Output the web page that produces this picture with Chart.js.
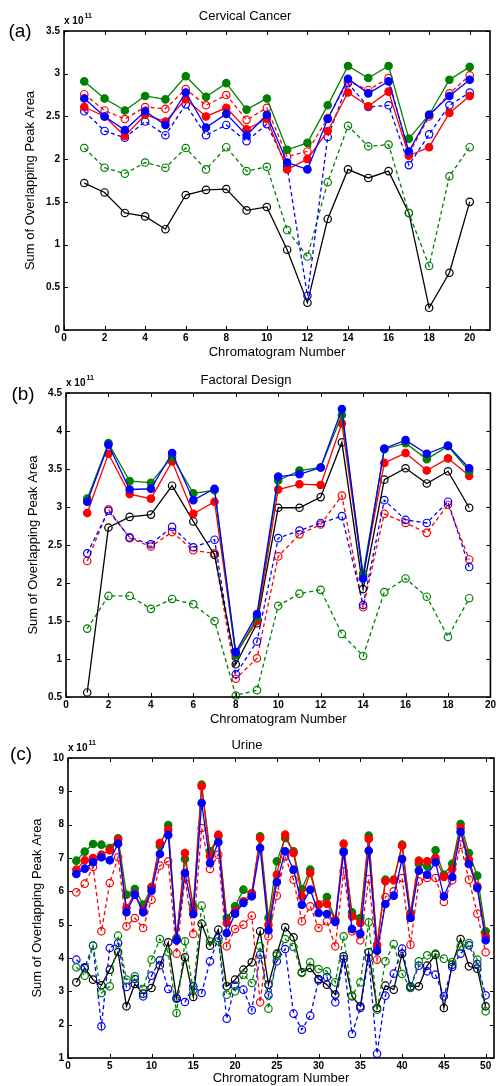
<!DOCTYPE html>
<html>
<head>
<meta charset="utf-8">
<title>Sum of Overlapping Peak Area</title>
<script src="https://cdn.jsdelivr.net/npm/chart.js@4.4.1/dist/chart.umd.min.js"></script>
<style>
  html, body { margin: 0; padding: 0; background: #fff; }
  #page { position: relative; width: 498px; height: 1086px; overflow: hidden; }
  #page canvas { position: absolute; left: 0; }
</style>
</head>
<body>
<div id="page">
  <canvas id="chartA" width="498" height="362" style="top:0"></canvas>
  <canvas id="chartB" width="498" height="366" style="top:362px"></canvas>
  <canvas id="chartC" width="498" height="358" style="top:728px"></canvas>
</div>
<script>
/* ============================================================
   DATA — values in units of 10^11
   ============================================================ */

// (a) Cervical Cancer, chromatograms 1..20
const cervGreenFilled = [2.91, 2.71, 2.57, 2.74, 2.70, 2.97, 2.73, 2.89, 2.58, 2.71, 2.11, 2.19, 2.63, 3.09, 2.95, 3.09, 2.24, 2.52, 2.93, 3.08];
const cervRedOpen     = [2.76, 2.57, 2.47, 2.61, 2.59, 2.82, 2.63, 2.75, 2.46, 2.60, 2.03, 2.09, 2.48, 2.91, 2.81, 2.95, 2.06, 2.50, 2.77, 2.98];
const cervBlueFilled  = [2.71, 2.50, 2.34, 2.56, 2.40, 2.78, 2.37, 2.53, 2.28, 2.52, 1.96, 1.88, 2.47, 2.94, 2.77, 2.91, 2.09, 2.52, 2.74, 2.93];
const cervRedFilled   = [2.61, 2.50, 2.27, 2.52, 2.44, 2.70, 2.50, 2.60, 2.35, 2.47, 1.88, 2.00, 2.33, 2.78, 2.62, 2.79, 2.04, 2.14, 2.54, 2.74];
const cervBlueOpen    = [2.56, 2.33, 2.25, 2.44, 2.28, 2.64, 2.28, 2.40, 2.21, 2.41, 1.91, 0.40, 2.26, 2.89, 2.61, 2.63, 1.93, 2.29, 2.63, 2.78];
const cervGreenOpen   = [2.13, 1.90, 1.83, 1.96, 1.90, 2.13, 1.88, 2.14, 1.86, 1.91, 1.17, 0.86, 1.73, 2.39, 2.15, 2.17, 1.37, 0.75, 1.80, 2.14];
const cervBlack       = [1.72, 1.61, 1.37, 1.33, 1.18, 1.58, 1.64, 1.65, 1.40, 1.44, 0.94, 0.32, 1.30, 1.88, 1.78, 1.86, 1.37, 0.26, 0.67, 1.50];

// (b) Factoral Design, chromatograms 1..19
const factGreenFilled = [3.11, 3.84, 3.34, 3.32, 3.66, 3.18, 3.22, 1.05, 1.55, 3.35, 3.48, 3.52, 4.21, 2.12, 3.76, 3.84, 3.63, 3.80, 3.47];
const factBlueFilled  = [3.07, 3.82, 3.23, 3.24, 3.71, 3.09, 3.24, 1.09, 1.59, 3.40, 3.43, 3.52, 4.29, 2.06, 3.77, 3.88, 3.70, 3.81, 3.51];
const factRedFilled   = [2.92, 3.70, 3.17, 3.11, 3.60, 2.91, 3.07, 1.07, 1.50, 3.23, 3.30, 3.29, 4.10, 2.09, 3.58, 3.71, 3.48, 3.64, 3.41];
const factBlack       = [0.56, 2.73, 2.87, 2.90, 3.28, 2.81, 2.37, 0.93, 1.47, 2.99, 2.99, 3.13, 3.85, 1.92, 3.36, 3.51, 3.31, 3.47, 2.99];
const factBlueOpen    = [2.39, 2.95, 2.60, 2.51, 2.74, 2.47, 2.57, 0.80, 1.23, 2.59, 2.69, 2.79, 2.88, 1.71, 3.09, 2.83, 2.79, 3.07, 2.21];
const factRedOpen     = [2.29, 2.97, 2.59, 2.48, 2.67, 2.43, 2.39, 0.74, 1.01, 2.35, 2.64, 2.77, 3.15, 1.68, 2.91, 2.79, 2.66, 3.03, 2.31];
const factGreenOpen   = [1.40, 1.83, 1.83, 1.66, 1.79, 1.72, 1.50, 0.52, 0.59, 1.70, 1.86, 1.91, 1.33, 1.04, 1.88, 2.06, 1.82, 1.29, 1.80];

// (c) Urine, chromatograms 1..50
const urineGreenFilled = [6.92, 7.19, 7.42, 7.40, 7.30, 7.59, 5.90, 6.07, 5.60, 6.13, 7.37, 7.99, 4.60, 6.97, 5.55, 9.20, 7.20, 7.65, 5.20, 5.55,
                          6.05, 5.90, 7.65, 5.20, 6.90, 7.60, 7.20, 6.07, 6.65, 5.60, 5.83, 5.15, 7.22, 5.37, 5.20, 7.67, 4.35, 6.35, 6.35, 7.40,
                          5.35, 6.83, 6.75, 7.23, 6.50, 6.83, 8.02, 7.15, 6.47, 4.80];
const urineRedFilled   = [6.65, 6.93, 7.00, 7.10, 7.23, 7.55, 5.50, 5.93, 5.43, 6.13, 7.45, 7.85, 4.55, 7.15, 5.45, 9.15, 7.05, 7.70, 5.05, 5.40,
                          5.70, 5.95, 7.60, 5.00, 6.50, 7.70, 7.15, 5.85, 6.55, 5.60, 5.63, 5.13, 7.43, 5.25, 5.05, 7.57, 4.40, 6.30, 6.33, 7.37,
                          5.30, 6.92, 6.90, 7.00, 6.43, 6.67, 7.90, 6.95, 6.15, 4.65];
const urineBlueFilled  = [6.52, 6.68, 6.87, 7.02, 6.93, 7.43, 5.37, 5.90, 5.37, 6.02, 7.12, 7.69, 4.53, 6.55, 5.32, 8.65, 6.85, 7.47, 4.75, 5.33,
                          5.65, 5.85, 7.30, 4.83, 6.27, 7.20, 6.65, 5.60, 6.05, 5.35, 5.32, 5.08, 7.17, 4.87, 4.73, 7.22, 4.22, 5.62, 5.87, 6.97,
                          5.20, 6.62, 6.50, 6.87, 5.85, 6.43, 7.78, 6.82, 6.10, 4.53];
const urineRedOpen     = [5.97, 6.23, 6.73, 4.80, 6.25, 7.02, 4.95, 5.20, 4.90, 5.75, 6.77, 6.90, 4.13, 6.40, 4.72, 7.90, 6.67, 7.10, 4.35, 4.87,
                          5.00, 5.27, 2.67, 4.65, 5.87, 7.05, 6.35, 5.10, 5.55, 4.90, 5.10, 4.35, 6.60, 4.80, 4.53, 6.37, 3.95, 5.83, 6.00, 6.40,
                          4.40, 6.30, 6.40, 6.40, 5.68, 6.33, 7.40, 6.35, 5.33, 4.17];
const urineGreenOpen   = [3.72, 3.47, 4.37, 2.95, 3.15, 4.67, 3.35, 3.45, 3.07, 3.95, 4.57, 4.17, 2.35, 4.50, 3.05, 5.57, 4.50, 4.50, 2.90, 3.00,
                          3.50, 3.25, 4.35, 2.48, 4.07, 4.57, 4.33, 3.55, 3.87, 3.67, 3.60, 3.27, 4.65, 2.87, 3.27, 5.07, 2.45, 3.90, 4.42, 3.52,
                          3.10, 3.90, 4.08, 4.13, 3.98, 3.88, 4.35, 4.45, 3.95, 2.40];
const urineBlueOpen    = [3.95, 3.72, 4.37, 1.95, 4.30, 4.45, 3.13, 3.37, 2.85, 3.47, 3.93, 3.07, 2.78, 2.68, 3.15, 2.95, 3.90, 4.60, 2.18, 3.17,
                          3.05, 2.43, 4.10, 2.88, 3.90, 4.27, 2.33, 1.85, 2.27, 3.33, 3.43, 2.67, 3.97, 1.72, 2.50, 4.00, 1.13, 2.87, 3.53, 4.28,
                          3.12, 3.77, 3.60, 3.50, 2.85, 3.73, 4.13, 4.38, 3.82, 2.88];
const urineBlack       = [3.27, 3.70, 3.35, 3.18, 3.65, 4.18, 2.55, 3.22, 2.93, 3.10, 3.78, 4.47, 2.80, 4.02, 2.83, 5.03, 4.37, 4.85, 3.15, 3.35,
                          3.65, 3.87, 4.80, 3.20, 4.13, 4.92, 4.62, 3.57, 3.70, 3.37, 3.20, 2.90, 4.05, 2.85, 2.55, 4.17, 2.50, 3.17, 3.05, 4.13,
                          3.15, 3.15, 3.77, 4.10, 2.50, 3.80, 4.57, 3.75, 3.68, 2.55];

// Tick values
const xTicksA = [0, 2, 4, 6, 8, 10, 12, 14, 16, 18, 20];
const yTicksA = [0, 0.5, 1, 1.5, 2, 2.5, 3, 3.5];
const xTicksB = [0, 2, 4, 6, 8, 10, 12, 14, 16, 18, 20];
const yTicksB = [0.5, 1, 1.5, 2, 2.5, 3, 3.5, 4, 4.5];
const xTicksC = [0, 5, 10, 15, 20, 25, 30, 35, 40, 45, 50];
const yTicksC = [1, 2, 3, 4, 5, 6, 7, 8, 9, 10];

/* ============================================================
   STYLE
   ============================================================ */
const FONT = '"Liberation Sans", Arial, Helvetica, sans-serif';
const COLORS = { green: '#008000', red: '#ff0000', blue: '#0000ff', black: '#000000' };
const TICK_LEN = 4;
const PAGE_W = 498;

// MATLAB-like axes box with inward ticks, panel letter and "x 10^11" exponent
const matlabFrame = {
  id: 'matlabFrame',
  afterDraw(chart, args, opts) {
    const { ctx, chartArea: a } = chart;
    const x = chart.scales.x, y = chart.scales.y;
    ctx.save();
    ctx.strokeStyle = '#000';
    ctx.lineWidth = 1;
    ctx.beginPath();
    x.ticks.forEach(t => {
      const px = Math.round(x.getPixelForValue(t.value)) + 0.5;
      ctx.moveTo(px, a.bottom); ctx.lineTo(px, a.bottom - TICK_LEN);
      ctx.moveTo(px, a.top); ctx.lineTo(px, a.top + TICK_LEN);
    });
    y.ticks.forEach(t => {
      const py = Math.round(y.getPixelForValue(t.value)) + 0.5;
      ctx.moveTo(a.left, py); ctx.lineTo(a.left + TICK_LEN, py);
      ctx.moveTo(a.right, py); ctx.lineTo(a.right - TICK_LEN, py);
    });
    ctx.stroke();
    ctx.lineWidth = 1.6;
    ctx.strokeRect(a.left, a.top, a.right - a.left, a.bottom - a.top);

    ctx.fillStyle = '#000';
    ctx.textAlign = 'center';
    ctx.textBaseline = 'middle';
    ctx.font = `19px ${FONT}`;
    ctx.fillText(opts.letter, opts.letterX, opts.letterY);

    ctx.textAlign = 'left';
    ctx.textBaseline = 'alphabetic';
    ctx.font = `bold 10px ${FONT}`;
    const base = 'x 10';
    ctx.fillText(base, a.left, a.top - 7);
    const w = ctx.measureText(base).width;
    ctx.font = `bold 7px ${FONT}`;
    ctx.fillText('11', a.left + w + 1, a.top - 13);
    ctx.restore();
  }
};

function series(values, color, filled, dashed) {
  return {
    data: values.map((v, i) => ({ x: i + 1, y: v })),
    borderColor: color,
    backgroundColor: color,
    borderWidth: 1.3,
    borderDash: dashed ? [4, 3] : [],
    pointRadius: 3.7,
    pointBorderWidth: 1.2,
    pointBackgroundColor: filled ? color : 'rgba(0,0,0,0)',
    pointBorderColor: color,
    tension: 0,
    fill: false,
    clip: false,
  };
}

// p holds the panel geometry (chart-area edges in canvas px) and text
function buildPanel(id, p, datasets) {
  const canvas = document.getElementById(id);
  const H = canvas.height;
  const tickFont = { family: FONT, size: 10, weight: 'bold' };
  const labelFont = { family: FONT, size: 13, weight: 'normal' };
  return new Chart(canvas, {
    type: 'line',
    data: { datasets },
    options: {
      responsive: false,
      animation: false,
      events: [],
      layout: { padding: { left: 0, right: PAGE_W - p.right, top: 0, bottom: 0 }, autoPadding: false },
      plugins: {
        legend: { display: false },
        tooltip: { enabled: false },
        title: {
          display: true, text: p.title, color: '#000', font: labelFont,
          padding: { top: p.titleY - 7.8, bottom: p.top - p.titleY - 7.8 }
        },
        matlabFrame: { letter: p.letter, letterX: p.letterX, letterY: p.letterY }
      },
      scales: {
        x: {
          type: 'linear', min: p.xMin, max: p.xMax,
          afterFit: s => { s.height = H - p.bottom; },
          afterBuildTicks: s => { s.ticks = p.xTicks.map(v => ({ value: v })); },
          grid: { display: false, drawTicks: false }, border: { display: false },
          ticks: { color: '#000', font: tickFont, padding: 2, maxRotation: 0, autoSkip: false, callback: v => String(v) },
          title: { display: true, text: 'Chromatogram Number', color: '#000', font: labelFont,
                   padding: { top: 0, bottom: Math.max(0, H - 7.8 - p.xTitleY) } }
        },
        y: {
          type: 'linear', min: p.yMin, max: p.yMax,
          afterFit: s => { s.width = p.left; },
          afterBuildTicks: s => { s.ticks = p.yTicks.map(v => ({ value: v })); },
          grid: { display: false, drawTicks: false }, border: { display: false },
          ticks: { color: '#000', font: tickFont, padding: 4, autoSkip: false, callback: v => String(v) },
          title: { display: true, text: 'Sum of Overlapping Peak Area', color: '#000', font: labelFont,
                   padding: { top: p.yTitleX - 7.8, bottom: 0 } }
        }
      }
    },
    plugins: [matlabFrame]
  });
}

/* ============================================================
   PANELS
   ============================================================ */
buildPanel('chartA', {
  title: 'Cervical Cancer', letter: '(a)', letterX: 20, letterY: 32,
  left: 64, right: 490, top: 31, bottom: 330, titleY: 16, xTitleY: 352, yTitleX: 30,
  xMin: 0, xMax: 21, yMin: 0, yMax: 3.5, xTicks: xTicksA, yTicks: yTicksA
}, [
  series(cervBlueFilled, COLORS.blue, true, false),
  series(cervRedFilled, COLORS.red, true, false),
  series(cervGreenFilled, COLORS.green, true, false),
  series(cervRedOpen, COLORS.red, false, true),
  series(cervBlueOpen, COLORS.blue, false, true),
  series(cervGreenOpen, COLORS.green, false, true),
  series(cervBlack, COLORS.black, false, false),
]);

buildPanel('chartB', {
  title: 'Factoral Design', letter: '(b)', letterX: 23, letterY: 33,
  left: 66, right: 492, top: 31, bottom: 335, titleY: 18, xTitleY: 357, yTitleX: 33,
  xMin: 0, xMax: 20, yMin: 0.5, yMax: 4.5, xTicks: xTicksB, yTicks: yTicksB
}, [
  series(factBlueFilled, COLORS.blue, true, false),
  series(factGreenFilled, COLORS.green, true, false),
  series(factRedFilled, COLORS.red, true, false),
  series(factBlack, COLORS.black, false, false),
  series(factBlueOpen, COLORS.blue, false, true),
  series(factRedOpen, COLORS.red, false, true),
  series(factGreenOpen, COLORS.green, false, true),
]);

buildPanel('chartC', {
  title: 'Urine', letter: '(c)', letterX: 21, letterY: 27,
  left: 68, right: 494, top: 30, bottom: 330, titleY: 17, xTitleY: 351, yTitleX: 37,
  xMin: 0, xMax: 51, yMin: 1, yMax: 10, xTicks: xTicksC, yTicks: yTicksC
}, [
  series(urineBlueFilled, COLORS.blue, true, false),
  series(urineRedFilled, COLORS.red, true, false),
  series(urineGreenFilled, COLORS.green, true, false),
  series(urineRedOpen, COLORS.red, false, true),
  series(urineGreenOpen, COLORS.green, false, true),
  series(urineBlueOpen, COLORS.blue, false, true),
  series(urineBlack, COLORS.black, false, false),
]);
</script>
</body>
</html>
